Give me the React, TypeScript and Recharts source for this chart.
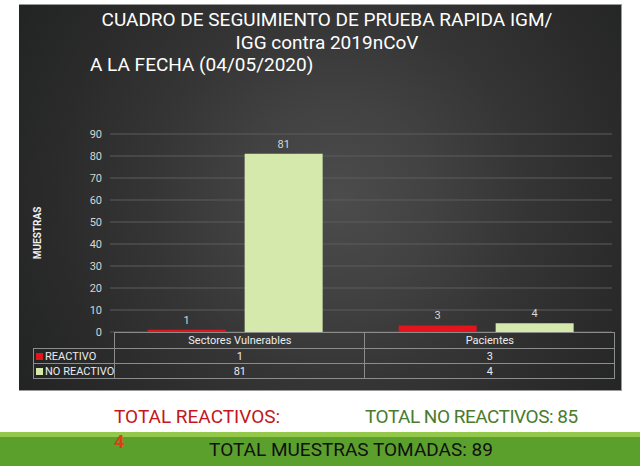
import { BarChart, Bar, XAxis, YAxis, CartesianGrid, LabelList } from "recharts";

const categories = ["Sectores Vulnerables", "Pacientes"];
const reactivo = [1, 3];
const noReactivo = [81, 4];
const yTicks = [0, 10, 20, 30, 40, 50, 60, 70, 80, 90];

const series = [
  { key: "reactivo", name: "REACTIVO", values: reactivo, color: "#e3141b" },
  { key: "noReactivo", name: "NO REACTIVO", values: noReactivo, color: "#d6e9ac" },
];

const data = categories.map((name, i) => ({
  name,
  reactivo: reactivo[i],
  noReactivo: noReactivo[i],
}));

const sum = (arr: number[]) => arr.reduce((a, b) => a + b, 0);
const totalReactivos = sum(reactivo);
const totalNoReactivos = sum(noReactivo);
const totalMuestras = totalReactivos + totalNoReactivos;

const PLOT_LEFT = 112;
const PLOT_RIGHT = 612;
const LABEL_COL = 79;
const border = "1px solid #8c8c8c";

const App = () => {
  const colWidth = (PLOT_RIGHT - PLOT_LEFT) / categories.length;

  return (
    <div
      style={{
        position: "absolute",
        left: 0,
        top: 0,
        width: 640,
        height: 466,
        background: "#fff",
        fontFamily: "Roboto, sans-serif",
        overflow: "hidden",
      }}
    >
      {/* dark panel */}
      <div
        style={{
          position: "absolute",
          left: 19,
          top: 4,
          width: 602,
          height: 385,
          background:
            "radial-gradient(circle at 53% 50%, #4c4c4c 0%, #424242 25%, #353535 50%, #2a2b2a 75%, #222423 100%)",
          borderTop: "1px solid #9a9a9a",
          borderRight: "1px solid #9a9a9a",
          borderBottom: "1px solid #9a9a9a",
        }}
      />

      {/* titles */}
      <div
        style={{
          position: "absolute",
          left: 19,
          top: 8,
          width: 616,
          textAlign: "center",
          color: "#fff",
          fontSize: 19,
          lineHeight: "23px",
        }}
      >
        <div>CUADRO DE SEGUIMIENTO DE PRUEBA RAPIDA IGM/</div>
        <div>IGG contra 2019nCoV</div>
      </div>
      <div
        style={{
          position: "absolute",
          left: 90,
          top: 53,
          color: "#fff",
          fontSize: 19,
          lineHeight: "23px",
        }}
      >
        A LA FECHA (04/05/2020)
      </div>

      {/* y axis title */}
      <div
        style={{
          position: "absolute",
          left: 37,
          top: 233,
          transform: "translate(-50%, -50%) rotate(-90deg)",
          color: "#f0f0f0",
          fontSize: 10,
          fontWeight: 700,
          whiteSpace: "nowrap",
        }}
      >
        MUESTRAS
      </div>

      <div style={{ position: "absolute", left: 0, top: 0 }}>
        <BarChart
          width={640}
          height={340}
          data={data}
          margin={{ top: 134, right: 640 - PLOT_RIGHT, bottom: 8, left: 0 }}
          barCategoryGap="15%"
          barGap={19}
        >
          <CartesianGrid vertical={false} stroke="#5c5c5c" />
          <XAxis dataKey="name" hide />
          <YAxis
            width={PLOT_LEFT - 2}
            domain={[0, 90]}
            ticks={yTicks}
            interval={0}
            axisLine={false}
            tickLine={false}
            tick={{ fill: "#d6d6d6", fontSize: 11 }}
          />
          {series.map((s) => (
            <Bar key={s.key} dataKey={s.key} fill={s.color} isAnimationActive={false}>
              <LabelList dataKey={s.key} position="top" fill="#d6d6d6" fontSize={11} offset={6} />
            </Bar>
          ))}
        </BarChart>
      </div>

      {/* data table */}
      <table
        style={{
          position: "absolute",
          left: PLOT_LEFT - LABEL_COL,
          top: 332,
          borderCollapse: "collapse",
          color: "#ececec",
          fontSize: 11,
          tableLayout: "fixed",
        }}
      >
        <tbody>
          <tr style={{ height: 16 }}>
            <td style={{ width: LABEL_COL, padding: 0 }} />
            {categories.map((c) => (
              <td
                key={c}
                style={{ width: colWidth - 1, border, textAlign: "center", padding: 0 }}
              >
                {c}
              </td>
            ))}
          </tr>
          {series.map((s) => (
            <tr key={s.key} style={{ height: 15 }}>
              <td style={{ border, padding: "0 0 0 2px", whiteSpace: "nowrap" }}>
                <span
                  style={{
                    display: "inline-block",
                    width: 7,
                    height: 7,
                    background: s.color,
                    marginRight: 2,
                  }}
                />
                {s.name}
              </td>
              {s.values.map((v, i) => (
                <td key={i} style={{ border, textAlign: "center", padding: 0 }}>
                  {v}
                </td>
              ))}
            </tr>
          ))}
        </tbody>
      </table>

      {/* totals */}
      <div
        style={{
          position: "absolute",
          left: 0,
          top: 432,
          width: 640,
          height: 34,
          background: "#5b9f2d",
          borderTop: "5px solid #93c84a",
          boxSizing: "border-box",
        }}
      />
      <div
        style={{
          position: "absolute",
          left: 114,
          top: 405,
          color: "#c4161c",
          fontSize: 19,
          lineHeight: "23px",
        }}
      >
        TOTAL REACTIVOS:
      </div>
      <div
        style={{
          position: "absolute",
          left: 114,
          top: 432,
          color: "#d8421a",
          fontSize: 18,
          fontWeight: 700,
          lineHeight: "20px",
        }}
      >
        {totalReactivos}
      </div>
      <div
        style={{
          position: "absolute",
          left: 365,
          top: 405,
          color: "#4a7b2e",
          fontSize: 19,
          letterSpacing: -0.5,
          lineHeight: "23px",
        }}
      >
        TOTAL NO REACTIVOS: {totalNoReactivos}
      </div>
      <div
        style={{
          position: "absolute",
          left: 0,
          top: 438,
          width: 702,
          textAlign: "center",
          color: "#111",
          fontSize: 19,
          lineHeight: "23px",
        }}
      >
        TOTAL MUESTRAS TOMADAS: {totalMuestras}
      </div>
    </div>
  );
};

export default App;
